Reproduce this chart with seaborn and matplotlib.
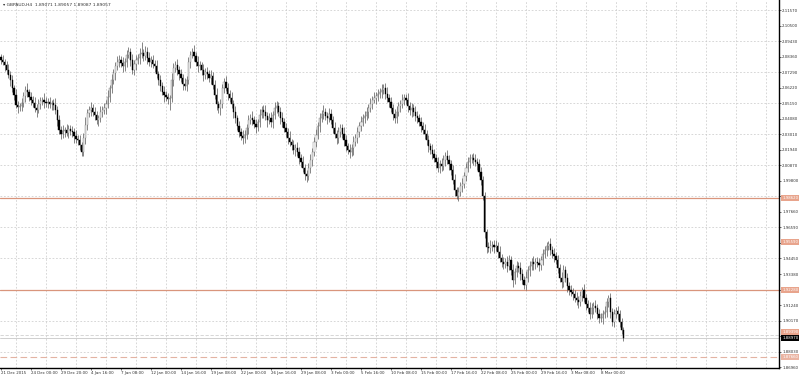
import matplotlib
matplotlib.use("Agg")
import matplotlib.pyplot as plt
import matplotlib.transforms as mtransforms
import numpy as np
import pandas as pd
import seaborn as sns

# ---------------- data ----------------
header_text = "GBPAUD,H4  1.89071 1.89057 1.89087 1.89057"

first_open = 2.0830
closes = [
    2.0813, 2.0799, 2.0778, 2.0744, 2.0709, 2.0675, 2.0620, 2.0571, 2.0503, 2.0489, 2.0496, 2.0516, 2.0565, 2.0606, 2.0592, 2.0558,
    2.0537, 2.0516, 2.0482, 2.0468, 2.0509, 2.0530, 2.0537, 2.0523, 2.0516, 2.0523, 2.0509, 2.0516, 2.0503, 2.0468, 2.0399, 2.0330,
    2.0303, 2.0323, 2.0330, 2.0310, 2.0337, 2.0323, 2.0317, 2.0289, 2.0268, 2.0261, 2.0227, 2.0179, 2.0275, 2.0365, 2.0447, 2.0468,
    2.0482, 2.0454, 2.0434, 2.0399, 2.0413, 2.0454, 2.0468, 2.0482, 2.0509, 2.0558, 2.0620, 2.0675, 2.0723, 2.0771, 2.0799, 2.0813,
    2.0792, 2.0771, 2.0799, 2.0847, 2.0868, 2.0813, 2.0744, 2.0785, 2.0813, 2.0826, 2.0854, 2.0861, 2.0840, 2.0868, 2.0826, 2.0799,
    2.0813, 2.0785, 2.0771, 2.0716, 2.0675, 2.0633, 2.0592, 2.0571, 2.0558, 2.0544, 2.0551, 2.0675, 2.0758, 2.0778, 2.0744, 2.0716,
    2.0689, 2.0647, 2.0633, 2.0675, 2.0799, 2.0847, 2.0868, 2.0840, 2.0799, 2.0771, 2.0778, 2.0744, 2.0709, 2.0730, 2.0716, 2.0689,
    2.0702, 2.0640, 2.0571, 2.0509, 2.0482, 2.0509, 2.0620, 2.0661, 2.0620, 2.0578, 2.0551, 2.0509, 2.0454, 2.0413, 2.0358, 2.0317,
    2.0289, 2.0275, 2.0296, 2.0344, 2.0399, 2.0413, 2.0399, 2.0372, 2.0351, 2.0385, 2.0434, 2.0468, 2.0454, 2.0427, 2.0399, 2.0413,
    2.0385, 2.0434, 2.0482, 2.0496, 2.0454, 2.0413, 2.0385, 2.0344, 2.0317, 2.0275, 2.0248, 2.0227, 2.0193, 2.0206, 2.0179, 2.0137,
    2.0110, 2.0068, 2.0027, 2.0013, 2.0068, 2.0124, 2.0179, 2.0248, 2.0296, 2.0358, 2.0413, 2.0441, 2.0454, 2.0427, 2.0413, 2.0441,
    2.0399, 2.0344, 2.0303, 2.0275, 2.0317, 2.0344, 2.0303, 2.0261, 2.0220, 2.0193, 2.0179, 2.0206, 2.0248, 2.0275, 2.0317, 2.0358,
    2.0385, 2.0413, 2.0427, 2.0454, 2.0482, 2.0509, 2.0537, 2.0551, 2.0565, 2.0578, 2.0592, 2.0606, 2.0620, 2.0578, 2.0551, 2.0523,
    2.0482, 2.0441, 2.0413, 2.0454, 2.0496, 2.0509, 2.0537, 2.0551, 2.0537, 2.0496, 2.0468, 2.0482, 2.0454, 2.0427, 2.0413, 2.0385,
    2.0358, 2.0330, 2.0303, 2.0261, 2.0220, 2.0193, 2.0165, 2.0137, 2.0110, 2.0068, 2.0096, 2.0082, 2.0124, 2.0151, 2.0124, 2.0096,
    2.0055, 1.9986, 1.9917, 1.9876, 1.9903, 1.9944, 1.9958, 2.0013, 2.0068, 2.0110, 2.0137, 2.0137, 2.0124, 2.0110, 2.0096, 2.0041,
    1.9986, 1.9876, 1.9628, 1.9524, 1.9517, 1.9531, 1.9538, 1.9524, 1.9531, 1.9490, 1.9448, 1.9421, 1.9407, 1.9421, 1.9393, 1.9435,
    1.9366, 1.9297, 1.9352, 1.9393, 1.9380, 1.9338, 1.9297, 1.9262, 1.9311, 1.9366, 1.9393, 1.9421, 1.9407, 1.9421, 1.9414, 1.9400,
    1.9435, 1.9476, 1.9504, 1.9531, 1.9545, 1.9504, 1.9476, 1.9462, 1.9435, 1.9380, 1.9311, 1.9283, 1.9366, 1.9311, 1.9256, 1.9228,
    1.9214, 1.9200, 1.9173, 1.9159, 1.9145, 1.9187, 1.9228, 1.9173, 1.9131, 1.9104, 1.9063, 1.9104, 1.9118, 1.9104, 1.9063, 1.9035,
    1.9035, 1.9063, 1.9076, 1.9145, 1.9173, 1.9076, 1.9008, 1.9063, 1.9083, 1.9063, 1.9008, 1.8952, 1.8897,
]

wick_up_pips = [
    22, 35, 18, 27, 40, 25, 31, 19, 44, 28, 23, 37, 30, 26, 48, 21,
    33, 29, 41, 24, 36, 27, 19, 45, 32, 26, 38, 22, 29, 47, 25, 34,
    28, 39, 21, 43, 30, 26, 35, 24, 41, 29, 33, 20, 37, 52, 28, 31,
    44, 25, 36, 30, 22, 40, 27, 34, 29, 46, 23, 38, 31, 26, 42, 35,
    24, 39, 28, 33, 34, 27, 41, 30, 36, 25, 44, 76, 29, 38, 32, 45,
    26, 37, 30, 42, 23, 35, 28, 40, 31, 25, 20, 47, 33, 27, 39, 29,
    34, 24, 41, 28, 36, 30, 27, 45, 25, 38, 31, 22, 43, 29, 35, 26,
    40, 27, 33, 46, 24, 37, 30, 28, 42, 35, 26, 39, 31, 44, 23, 36,
    29, 41, 32, 25, 38, 27, 45, 30, 34, 22, 40, 28, 36, 47, 26, 33,
    39, 24, 43, 31, 28, 35, 41, 26, 37, 30, 45, 23, 34, 29, 40, 32,
    27, 38, 25, 30, 36, 44, 28, 33, 41, 24, 37, 29, 46, 31, 26, 39,
    34, 28, 42, 25, 36, 31, 27, 45, 33, 24, 38, 30, 43, 26, 35, 29,
    41, 27, 36, 32, 24, 44, 30, 38, 26, 35, 28, 40, 27, 33, 46, 25,
    37, 29, 34, 42, 26, 31, 39, 24, 27, 45, 30, 36, 28, 41, 33, 25,
    38, 30, 44, 27, 35, 23, 40, 32, 26, 37, 29, 43, 31, 25, 39, 34,
    28, 36, 41, 24, 33, 30, 45, 27, 38, 31, 28, 26, 35, 42, 29, 37,
    32, 25, 30, 22, 36, 44, 28, 33, 39, 26, 41, 30, 35, 27, 43, 31,
    24, 38, 29, 34, 26, 40, 32, 27, 45, 30, 36, 28, 41, 25, 33, 37,
    29, 35, 26, 31, 21, 38, 27, 42, 30, 33, 25, 40, 34, 29, 36, 28,
    37, 26, 31, 44, 28, 35, 21, 39, 30, 27, 41, 33, 24, 38, 29, 36,
    31, 27, 40, 25, 20, 34, 29, 37, 26, 32, 28, 24, 18,
]

wick_dn_pips = [
    30, 24, 38, 26, 21, 42, 29, 35, 23, 40, 27, 33, 25, 44, 31, 28,
    37, 26, 31, 45, 22, 36, 29, 40, 27, 34, 24, 39, 32, 28, 43, 25,
    35, 30, 41, 23, 38, 27, 33, 46, 26, 31, 37, 25, 29, 42, 34, 24,
    39, 28, 34, 25, 43, 30, 36, 27, 41, 24, 38, 32, 26, 45, 29, 35,
    27, 40, 31, 36, 24, 44, 29, 33, 38, 26, 42, 30, 35, 28, 39, 25,
    34, 29, 41, 26, 37, 31, 23, 45, 28, 36, 76, 30, 40, 27, 33, 38,
    25, 42, 30, 35, 28, 39, 24, 36, 31, 44, 27, 33, 40, 26, 37, 29,
    41, 30, 26, 38, 33, 45, 28, 35, 24, 40, 31, 27, 43, 34, 29, 37,
    25, 39, 32, 28, 44, 26, 36, 30, 41, 27, 35, 23, 38, 31, 45, 28,
    33, 40, 26, 37, 29, 42, 31, 25, 36, 44, 28, 34, 30, 39, 27, 41,
    35, 29, 38, 41, 27, 33, 44, 26, 36, 30, 40, 28, 34, 25, 42, 31,
    29, 37, 25, 43, 31, 35, 28, 40, 33, 26, 39, 30, 45, 27, 36, 32,
    38, 26, 34, 30, 42, 28, 36, 24, 40, 33, 27, 44, 31, 35, 29, 37,
    25, 41, 32, 36, 28, 43, 30, 34, 26, 39, 31, 45, 27, 38, 33, 29,
    40, 28, 35, 31, 44, 26, 37, 30, 42, 27, 36, 33, 25, 41, 29, 38,
    32, 27, 39, 21, 35, 30, 43, 28, 36, 25, 40, 31, 34, 29, 44, 26,
    37, 30, 42, 41, 28, 35, 31, 39, 26, 44, 29, 36, 33, 27, 40, 30,
    34, 48, 31, 37, 26, 42, 29, 27, 36, 30, 40, 25, 38, 33, 28, 43,
    31, 37, 26, 40, 29, 34, 28, 42, 30, 36, 25, 39, 33, 27, 41, 32,
    26, 38, 30, 35, 43, 28, 36, 31, 40, 27, 34, 29, 44, 25, 37, 33,
    30, 39, 27, 35, 31, 42, 28, 36, 26, 40, 33, 29, 18,
]

time_labels = [
    "21 Dec 2015", "24 Dec 00:00", "29 Dec 20:00", "4 Jan 16:00", "7 Jan 08:00",
    "12 Jan 00:00", "14 Jan 16:00", "19 Jan 08:00", "22 Jan 00:00", "26 Jan 16:00",
    "29 Jan 08:00", "3 Feb 00:00", "5 Feb 16:00", "10 Feb 08:00", "15 Feb 00:00",
    "17 Feb 16:00", "22 Feb 08:00", "25 Feb 00:00", "29 Feb 16:00", "3 Mar 08:00",
    "8 Mar 00:00",
]

price_tick_labels = [
    "2.11570", "2.10500", "2.09430", "2.08360", "2.07290", "2.06220", "2.05150", "2.04080",
    "2.03010", "2.01940", "2.00870", "1.99800", "1.98730", "1.97660", "1.96590", "1.95520",
    "1.94450", "1.93380", "1.92310", "1.91240", "1.90170", "1.89100", "1.88030", "1.86960",
]

level_prices = [1.9862, 1.9559, 1.9228, 1.8939]
level_labels = ["1.98620", "1.95590", "1.92280", "1.89390"]
level_drawn = [True, False, True, False]
dashed_level_price = 1.8766
dashed_level_label = "1.87660"
ask_line_price = 1.8918

# ---------------- build frame ----------------
opens = [first_open] + closes[:-1]
df = pd.DataFrame({"open": opens, "close": closes,
                   "up": wick_up_pips, "dn": wick_dn_pips})
df["bar"] = np.arange(len(df))
df["high"] = df[["open", "close"]].max(axis=1) + df["up"] * 0.0001
df["low"] = df[["open", "close"]].min(axis=1) - df["dn"] * 0.0001
df["bull"] = df["close"] >= df["open"]

# ---------------- style ----------------
sns.set_theme(style="white")
plt.rcParams["font.family"] = ["DejaVu Sans"]

W, H = 800, 376
fig = plt.figure(figsize=(W / 100, H / 100), dpi=100, facecolor="white")
ax = fig.add_axes([0, (H - 368) / H, 779 / W, 368 / H])
ax.set_facecolor("white")

y_top = 2.1226
y_bot = 2.1226 - 0.000689 * 368
ax.set_ylim(y_bot, y_top)
n_slots = 779 / 1.875
ax.set_xlim(-0.5, n_slots - 0.5)

# grid
tick_vals = [float(s) for s in price_tick_labels]
grid_col = "#c8c8c8"
for v in tick_vals[::2]:
    ax.axhline(v, color=grid_col, lw=0.5, ls=(0, (2.5, 2.5)), zorder=0)
for k in range(len(time_labels) + 5):
    ax.axvline(8 + 16 * k, color=grid_col, lw=0.5, ls=(0, (2.5, 2.5)), zorder=0)

# level lines
lvl_col = "#d9957c"
for p, d in zip(level_prices, level_drawn):
    if d:
        ax.axhline(p, color=lvl_col, lw=0.9, zorder=1)
ax.axhline(dashed_level_price, color="#e3b3a3", lw=0.8, ls=(0, (6, 3)), zorder=1)
ax.axhline(ask_line_price, color="#d0d0d0", lw=0.6, ls=(0, (4, 2)), zorder=1)
ax.axhline(closes[-1], color="#c8c8c8", lw=0.6, zorder=1)

# candles
ax.vlines(df["bar"], df["low"], df["high"], color="#555555", lw=0.5, zorder=2)
bull = df[df["bull"]]
bear = df[~df["bull"]]
ax.bar(bull["bar"], bull["close"] - bull["open"], bottom=bull["open"], width=0.7,
       color="white", edgecolor="#7a7a7a", linewidth=0.3, zorder=3)
ax.bar(bear["bar"], bear["open"] - bear["close"], bottom=bear["close"], width=0.7,
       color="black", edgecolor="black", linewidth=0.3, zorder=3)

# axes frame
for s in ["top", "left"]:
    ax.spines[s].set_visible(False)
for s in ["right", "bottom"]:
    ax.spines[s].set_visible(True)
    ax.spines[s].set_color("black")
    ax.spines[s].set_linewidth(1.0)

ax.yaxis.tick_right()
ax.set_yticks(tick_vals)
ax.set_yticklabels(price_tick_labels)
ax.tick_params(axis="y", which="major", length=1.2, width=0.5, pad=1.0,
               labelsize=2.8, labelcolor="#303030", color="#303030", right=True)

ax.set_xticks([16 * k for k in range(len(time_labels))])
ax.set_xticklabels(time_labels)
for lab in ax.get_xticklabels():
    lab.set_horizontalalignment("left")
ax.tick_params(axis="x", which="major", length=1.5, width=0.5, pad=0.8,
               labelsize=2.9, labelcolor="#303030", color="#303030", bottom=True)

# right axis price boxes
trans = mtransforms.blended_transform_factory(ax.transAxes, ax.transData)
box_kw = dict(transform=trans, fontsize=2.8, color="white", va="center",
              ha="left", clip_on=False)
for p, lab in zip(level_prices, level_labels):
    ax.text(1.004, p, lab, zorder=6,
            bbox=dict(boxstyle="square,pad=0.2", fc="#e8a48c", ec="none"), **box_kw)
ax.text(1.004, dashed_level_price, dashed_level_label, zorder=6,
        bbox=dict(boxstyle="square,pad=0.2", fc="#eab4a2", ec="none"), **box_kw)
ax.text(1.004, closes[-1], f"{closes[-1]:.5f}", zorder=7,
        bbox=dict(boxstyle="square,pad=0.2", fc="black", ec="none"), **box_kw)

# header
fig.text(3 / W, 1 - 4.5 / H, "\u25BE " + header_text, fontsize=3.2, color="#303030",
         ha="left", va="center")

fig.savefig("out.png", dpi=100, facecolor="white")
